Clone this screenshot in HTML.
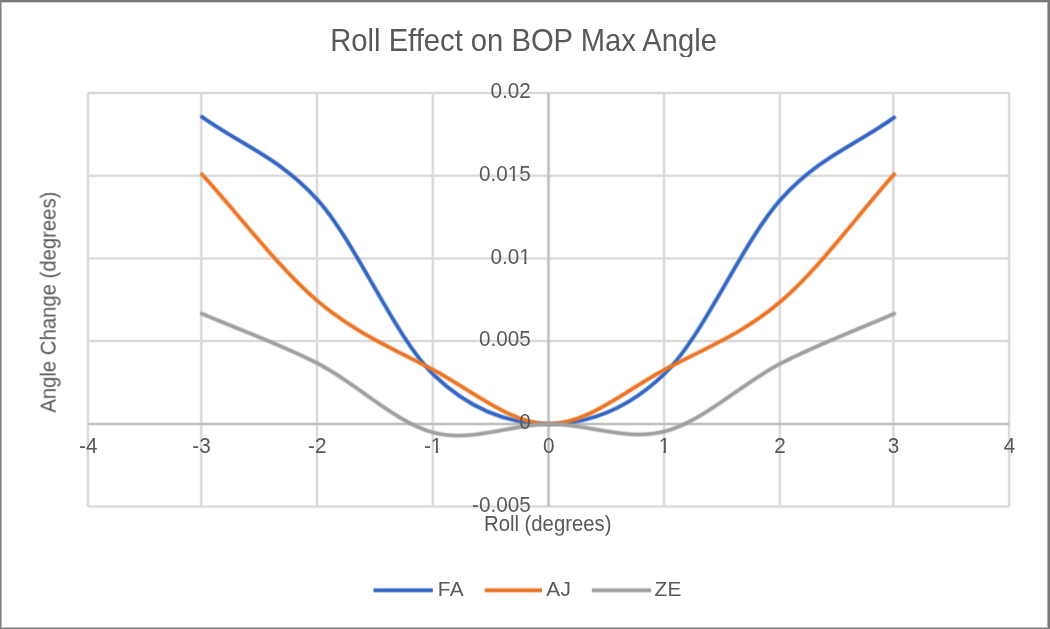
<!DOCTYPE html>
<html><head><meta charset="utf-8"><title>Roll Effect on BOP Max Angle</title>
<style>
html,body{margin:0;padding:0;background:#fff;}
body{width:1050px;height:629px;overflow:hidden;position:relative;}
svg{position:absolute;left:0;top:0;}
.bt{position:absolute;left:0;top:0;width:1050px;height:2px;background:#7a7a7a;}
.bt2{position:absolute;left:0;top:2px;width:1050px;height:1px;background:#d0d0d0;}
.bl{position:absolute;left:0;top:0;width:1px;height:629px;background:#808080;}
.bl2{position:absolute;left:1px;top:0;width:1px;height:629px;background:#b4b4b4;}
.br{position:absolute;right:0;top:0;width:2px;height:629px;background:#787878;}
.br2{position:absolute;right:2px;top:0;width:1px;height:629px;background:#b0b0b0;}
.bb{position:absolute;left:0;bottom:0;width:1050px;height:1px;background:#858585;}
.bb2{position:absolute;left:0;bottom:1px;width:1050px;height:1px;background:#bcbcbc;}
</style></head>
<body>
<svg width="1050" height="629" viewBox="0 0 1050 629">
<defs><clipPath id="ct1_1" clipPathUnits="userSpaceOnUse"><path clip-rule="evenodd" d="M-2000,-2000H3000V3000H-2000Z M-22.56,-2.15H-18.05V1.50H-22.56Z M-15.77,-2.15H-11.42V1.50H-15.77Z"/></clipPath><clipPath id="ct1_2" clipPathUnits="userSpaceOnUse"><path clip-rule="evenodd" d="M-2000,-2000H3000V3000H-2000Z M-11.05,-2.15H-6.53V1.50H-11.05Z M-4.26,-2.15H0.10V1.50H-4.26Z"/></clipPath><clipPath id="ct1_3" clipPathUnits="userSpaceOnUse"><path clip-rule="evenodd" d="M-2000,-2000H3000V3000H-2000Z M-1.86,-2.15H2.66V1.50H-1.86Z M4.93,-2.15H9.29V1.50H4.93Z"/></clipPath><clipPath id="ct1_4" clipPathUnits="userSpaceOnUse"><path clip-rule="evenodd" d="M-2000,-2000H3000V3000H-2000Z M-5.29,-2.15H-0.77V1.50H-5.29Z M1.50,-2.15H5.86V1.50H1.50Z"/></clipPath><filter id="b" x="0" y="0" width="1050" height="629" filterUnits="userSpaceOnUse"><feOffset dx="0" dy="0"/></filter></defs>
<rect width="1050" height="629" fill="#fff"/>
<g filter="url(#b)" font-family="'Liberation Sans', Arial, sans-serif" fill="#595959" stroke="#595959" stroke-width="0">
<path d="M87.9,92.9V506.5" stroke="#d9d9d9" stroke-width="3.4" stroke-opacity="0.3"/><path d="M87.9,92.9V506.5" stroke="#d9d9d9" stroke-width="2"/>
<path d="M201.2,92.9V506.5" stroke="#d9d9d9" stroke-width="3.4" stroke-opacity="0.3"/><path d="M201.2,92.9V506.5" stroke="#d9d9d9" stroke-width="2"/>
<path d="M317.0,92.9V506.5" stroke="#d9d9d9" stroke-width="3.4" stroke-opacity="0.3"/><path d="M317.0,92.9V506.5" stroke="#d9d9d9" stroke-width="2"/>
<path d="M432.8,92.9V506.5" stroke="#d9d9d9" stroke-width="3.4" stroke-opacity="0.3"/><path d="M432.8,92.9V506.5" stroke="#d9d9d9" stroke-width="2"/>
<path d="M664.1,92.9V506.5" stroke="#d9d9d9" stroke-width="3.4" stroke-opacity="0.3"/><path d="M664.1,92.9V506.5" stroke="#d9d9d9" stroke-width="2"/>
<path d="M779.8,92.9V506.5" stroke="#d9d9d9" stroke-width="3.4" stroke-opacity="0.3"/><path d="M779.8,92.9V506.5" stroke="#d9d9d9" stroke-width="2"/>
<path d="M893.3,92.9V506.5" stroke="#d9d9d9" stroke-width="3.4" stroke-opacity="0.3"/><path d="M893.3,92.9V506.5" stroke="#d9d9d9" stroke-width="2"/>
<path d="M1009.1,92.9V506.5" stroke="#d9d9d9" stroke-width="3.4" stroke-opacity="0.3"/><path d="M1009.1,92.9V506.5" stroke="#d9d9d9" stroke-width="2"/>
<path d="M87.9,92.9H1009.1" stroke="#d9d9d9" stroke-width="3.4" stroke-opacity="0.3"/><path d="M87.9,92.9H1009.1" stroke="#d9d9d9" stroke-width="2"/>
<path d="M87.9,175.8H1009.1" stroke="#d9d9d9" stroke-width="3.4" stroke-opacity="0.3"/><path d="M87.9,175.8H1009.1" stroke="#d9d9d9" stroke-width="2"/>
<path d="M87.9,258.4H1009.1" stroke="#d9d9d9" stroke-width="3.4" stroke-opacity="0.3"/><path d="M87.9,258.4H1009.1" stroke="#d9d9d9" stroke-width="2"/>
<path d="M87.9,341.1H1009.1" stroke="#d9d9d9" stroke-width="3.4" stroke-opacity="0.3"/><path d="M87.9,341.1H1009.1" stroke="#d9d9d9" stroke-width="2"/>
<path d="M87.9,506.5H1009.1" stroke="#d9d9d9" stroke-width="3.4" stroke-opacity="0.3"/><path d="M87.9,506.5H1009.1" stroke="#d9d9d9" stroke-width="2"/>
<path d="M87.9,424.0H1009.1M548.5,92.9V506.5" stroke="#bfbfbf" stroke-width="3.8" stroke-opacity="0.3" fill="none"/>
<path d="M87.9,424.0H1009.1M548.5,92.9V506.5" stroke="#bfbfbf" stroke-width="2.2" fill="none"/>
<path d="M202.00,116.90 C240.60,144.63 279.20,157.12 317.80,200.10 C356.40,243.08 395.02,337.48 433.60,374.80 C472.18,412.12 510.75,424.23 549.30,424.00 C587.85,423.77 626.35,410.80 664.90,373.40 C703.45,336.00 742.40,242.25 780.60,199.60 C818.80,156.95 856.27,144.87 894.10,117.50" fill="none" stroke="#3466c3" stroke-width="5.4" stroke-opacity="0.25" stroke-linecap="round" stroke-linejoin="round"/><path d="M202.00,116.90 C240.60,144.63 279.20,157.12 317.80,200.10 C356.40,243.08 395.02,337.48 433.60,374.80 C472.18,412.12 510.75,424.23 549.30,424.00 C587.85,423.77 626.35,410.80 664.90,373.40 C703.45,336.00 742.40,242.25 780.60,199.60 C818.80,156.95 856.27,144.87 894.10,117.50" fill="none" stroke="#3466c3" stroke-width="4.0" stroke-opacity="0.5" stroke-linecap="round" stroke-linejoin="round"/><path d="M202.00,116.90 C240.60,144.63 279.20,157.12 317.80,200.10 C356.40,243.08 395.02,337.48 433.60,374.80 C472.18,412.12 510.75,424.23 549.30,424.00 C587.85,423.77 626.35,410.80 664.90,373.40 C703.45,336.00 742.40,242.25 780.60,199.60 C818.80,156.95 856.27,144.87 894.10,117.50" fill="none" stroke="#3466c3" stroke-width="2.8" stroke-linecap="round" stroke-linejoin="round"/>
<path d="M202.00,174.40 C240.60,216.67 279.20,268.60 317.80,301.20 C356.40,333.80 395.02,349.53 433.60,370.00 C472.18,390.47 510.75,424.08 549.30,424.00 C587.85,423.92 626.35,389.90 664.90,369.50 C703.45,349.10 742.40,334.13 780.60,301.60 C818.80,269.07 856.27,216.73 894.10,174.30" fill="none" stroke="#ec7526" stroke-width="5.4" stroke-opacity="0.25" stroke-linecap="round" stroke-linejoin="round"/><path d="M202.00,174.40 C240.60,216.67 279.20,268.60 317.80,301.20 C356.40,333.80 395.02,349.53 433.60,370.00 C472.18,390.47 510.75,424.08 549.30,424.00 C587.85,423.92 626.35,389.90 664.90,369.50 C703.45,349.10 742.40,334.13 780.60,301.60 C818.80,269.07 856.27,216.73 894.10,174.30" fill="none" stroke="#ec7526" stroke-width="4.0" stroke-opacity="0.5" stroke-linecap="round" stroke-linejoin="round"/><path d="M202.00,174.40 C240.60,216.67 279.20,268.60 317.80,301.20 C356.40,333.80 395.02,349.53 433.60,370.00 C472.18,390.47 510.75,424.08 549.30,424.00 C587.85,423.92 626.35,389.90 664.90,369.50 C703.45,349.10 742.40,334.13 780.60,301.60 C818.80,269.07 856.27,216.73 894.10,174.30" fill="none" stroke="#ec7526" stroke-width="2.8" stroke-linecap="round" stroke-linejoin="round"/>
<path d="M202.00,313.70 C240.60,330.30 279.20,343.68 317.80,363.50 C356.40,383.32 395.02,422.52 433.60,432.60 C472.18,442.68 510.75,424.20 549.30,424.00 C587.85,423.80 626.35,441.48 664.90,431.40 C703.45,421.32 742.40,383.12 780.60,363.50 C818.80,343.88 856.27,330.30 894.10,313.70" fill="none" stroke="#a0a0a0" stroke-width="5.4" stroke-opacity="0.25" stroke-linecap="round" stroke-linejoin="round"/><path d="M202.00,313.70 C240.60,330.30 279.20,343.68 317.80,363.50 C356.40,383.32 395.02,422.52 433.60,432.60 C472.18,442.68 510.75,424.20 549.30,424.00 C587.85,423.80 626.35,441.48 664.90,431.40 C703.45,421.32 742.40,383.12 780.60,363.50 C818.80,343.88 856.27,330.30 894.10,313.70" fill="none" stroke="#a0a0a0" stroke-width="4.0" stroke-opacity="0.5" stroke-linecap="round" stroke-linejoin="round"/><path d="M202.00,313.70 C240.60,330.30 279.20,343.68 317.80,363.50 C356.40,383.32 395.02,422.52 433.60,432.60 C472.18,442.68 510.75,424.20 549.30,424.00 C587.85,423.80 626.35,441.48 664.90,431.40 C703.45,421.32 742.40,383.12 780.60,363.50 C818.80,343.88 856.27,330.30 894.10,313.70" fill="none" stroke="#a0a0a0" stroke-width="2.8" stroke-linecap="round" stroke-linejoin="round"/>
<text transform="translate(530.70,98.20) scale(1.0,1.08)" font-size="20.7" text-anchor="end">0.02</text>
<text id="t1_1" clip-path="url(#ct1_1)" transform="translate(530.70,181.10) scale(1.0,1.08)" font-size="20.7" text-anchor="end">0.015</text>
<text id="t1_2" clip-path="url(#ct1_2)" transform="translate(530.70,263.70) scale(1.0,1.08)" font-size="20.7" text-anchor="end">0.01</text>
<text transform="translate(530.70,346.40) scale(1.0,1.08)" font-size="20.7" text-anchor="end">0.005</text>
<text transform="translate(530.70,429.30) scale(1.0,1.08)" font-size="20.7" text-anchor="end">0</text>
<text transform="translate(530.70,511.80) scale(1.0,1.08)" font-size="20.7" text-anchor="end">-0.005</text>
<text transform="translate(88.20,453.40) scale(1.0,1.08)" font-size="20.7" text-anchor="middle">-4</text>
<text transform="translate(201.50,453.40) scale(1.0,1.08)" font-size="20.7" text-anchor="middle">-3</text>
<text transform="translate(317.30,453.40) scale(1.0,1.08)" font-size="20.7" text-anchor="middle">-2</text>
<text id="t1_3" clip-path="url(#ct1_3)" transform="translate(433.10,453.40) scale(1.0,1.08)" font-size="20.7" text-anchor="middle">-1</text>
<text transform="translate(548.80,453.40) scale(1.0,1.08)" font-size="20.7" text-anchor="middle">0</text>
<text id="t1_4" clip-path="url(#ct1_4)" transform="translate(664.40,453.40) scale(1.0,1.08)" font-size="20.7" text-anchor="middle">1</text>
<text transform="translate(780.10,453.40) scale(1.0,1.08)" font-size="20.7" text-anchor="middle">2</text>
<text transform="translate(893.60,453.40) scale(1.0,1.08)" font-size="20.7" text-anchor="middle">3</text>
<text transform="translate(1009.40,453.40) scale(1.0,1.08)" font-size="20.7" text-anchor="middle">4</text>
<text transform="translate(547.70,530.90) scale(1.0,1.06)" font-size="20.3" text-anchor="middle">Roll (degrees)</text>
<g transform="translate(55.8,302.2) rotate(-90)"><text transform="translate(0.00,0.00) scale(1.0,1.06)" font-size="20.3" text-anchor="middle">Angle Change (degrees)</text></g>
<text transform="translate(523.60,50.60) scale(1.0,1.06)" font-size="29.2" text-anchor="middle">Roll Effect on BOP Max Angle</text>
<path d="M373.60,590.3H432.70" fill="none" stroke="#3466c3" stroke-width="5.4" stroke-opacity="0.25" stroke-linecap="butt" stroke-linejoin="round"/><path d="M373.60,590.3H432.70" fill="none" stroke="#3466c3" stroke-width="4.0" stroke-opacity="0.5" stroke-linecap="butt" stroke-linejoin="round"/><path d="M373.60,590.3H432.70" fill="none" stroke="#3466c3" stroke-width="2.8" stroke-linecap="butt" stroke-linejoin="round"/>
<text transform="translate(437.70,596.40) scale(1.0,1.0)" font-size="20.8" text-anchor="start" letter-spacing="0.5">FA</text>
<path d="M484.80,590.3H542.00" fill="none" stroke="#ec7526" stroke-width="5.4" stroke-opacity="0.25" stroke-linecap="butt" stroke-linejoin="round"/><path d="M484.80,590.3H542.00" fill="none" stroke="#ec7526" stroke-width="4.0" stroke-opacity="0.5" stroke-linecap="butt" stroke-linejoin="round"/><path d="M484.80,590.3H542.00" fill="none" stroke="#ec7526" stroke-width="2.8" stroke-linecap="butt" stroke-linejoin="round"/>
<text transform="translate(546.20,596.40) scale(1.0,1.0)" font-size="20.8" text-anchor="start" letter-spacing="0.5">AJ</text>
<path d="M591.90,590.3H650.90" fill="none" stroke="#a0a0a0" stroke-width="5.4" stroke-opacity="0.25" stroke-linecap="butt" stroke-linejoin="round"/><path d="M591.90,590.3H650.90" fill="none" stroke="#a0a0a0" stroke-width="4.0" stroke-opacity="0.5" stroke-linecap="butt" stroke-linejoin="round"/><path d="M591.90,590.3H650.90" fill="none" stroke="#a0a0a0" stroke-width="2.8" stroke-linecap="butt" stroke-linejoin="round"/>
<text transform="translate(654.40,596.40) scale(1.0,1.0)" font-size="20.8" text-anchor="start" letter-spacing="0.5">ZE</text>
</g>
</svg>
<div class="bt2"></div><div class="bl2"></div><div class="br2"></div><div class="bb2"></div>
<div class="bt"></div><div class="bl"></div><div class="br"></div><div class="bb"></div>
</body></html>
